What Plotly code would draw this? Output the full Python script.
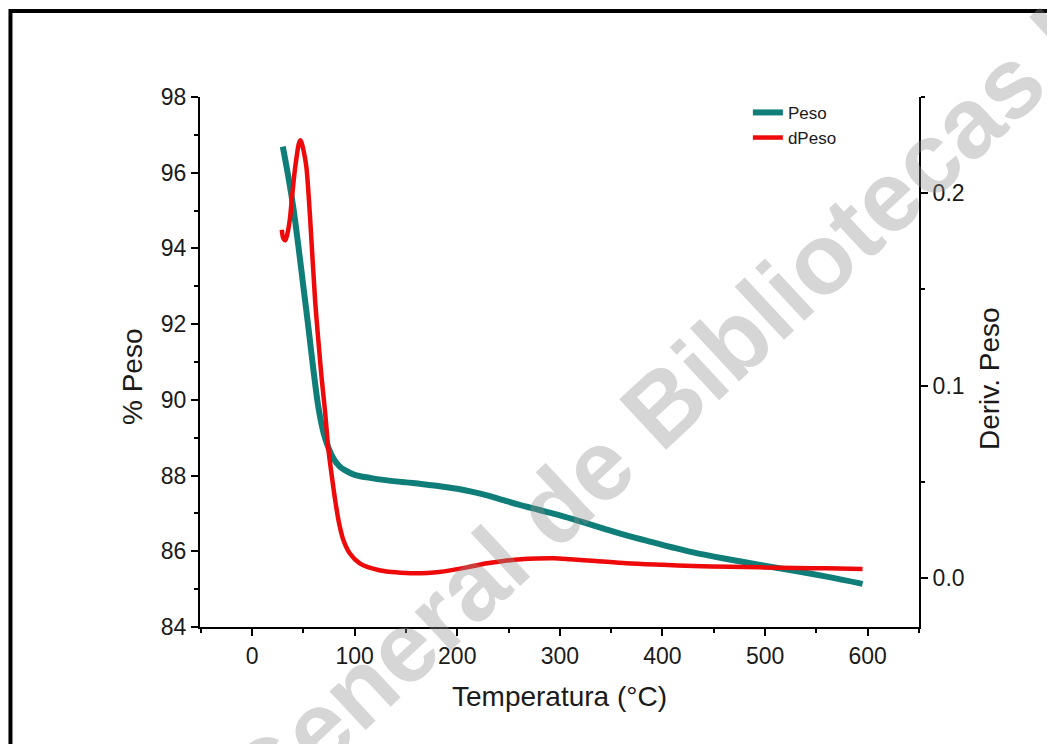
import plotly.graph_objects as go

# Peso (%) vs temperature
temp_peso = [30, 35, 40, 45, 50, 55, 60, 65, 70, 75, 80, 85, 90, 100, 115, 130, 150, 165, 180,
             200, 215, 230, 245, 260, 280, 300, 320, 345, 365, 390, 410, 430, 460, 495, 530, 560, 595]
peso = [96.69, 95.95, 95.12, 94.1, 93.0, 91.9, 90.75, 89.75, 89.1, 88.7, 88.42, 88.25, 88.15, 88.02,
        87.94, 87.88, 87.82, 87.78, 87.73, 87.65, 87.57, 87.47, 87.35, 87.23, 87.09, 86.95, 86.79,
        86.58, 86.42, 86.24, 86.1, 85.97, 85.81, 85.64, 85.48, 85.33, 85.14]

# Derivative of weight vs temperature
temp_dpeso = [29, 30.5, 32.5, 34.5, 37, 39, 41.5, 43.5, 45.5, 47, 48.5, 50.5, 53, 56.5, 61.5, 66, 68,
              71, 74.5, 78, 81, 85, 89, 95, 105, 118, 131, 145, 164, 180, 196, 212, 229, 245, 262,
              278, 294, 310, 335, 365, 400, 430, 465, 495, 530, 560, 595]
dpeso = [0.181, 0.1765, 0.1755, 0.179, 0.187, 0.198, 0.211, 0.219, 0.2255, 0.2275, 0.226, 0.2215,
         0.2135, 0.188, 0.144, 0.115, 0.103, 0.0875, 0.0665, 0.052, 0.0405, 0.028, 0.0197, 0.013,
         0.0076, 0.0048, 0.0033, 0.0027, 0.0024, 0.003, 0.0042, 0.0058, 0.0076, 0.0088, 0.0097,
         0.0101, 0.0102, 0.0097, 0.0088, 0.0076, 0.0068, 0.0062, 0.0058, 0.0055, 0.0052, 0.005, 0.0047]

x_ticks = [0, 100, 200, 300, 400, 500, 600]
y_ticks = [84, 86, 88, 90, 92, 94, 96, 98]
y2_ticks = [0.0, 0.1, 0.2]
y2_ticklabels = ["0.0", "0.1", "0.2"]

TEAL = "#0F7D78"
RED = "#EE0A0A"
FONT = "Liberation Sans, Arial, sans-serif"
TXT = "#1a1a1a"

fig = go.Figure()
fig.add_trace(go.Scatter(x=temp_peso, y=peso, name="Peso", mode="lines",
                         line=dict(color=TEAL, width=6, shape="spline", smoothing=1.0)))
fig.add_trace(go.Scatter(x=temp_dpeso, y=dpeso, name="dPeso", mode="lines", yaxis="y2",
                         line=dict(color=RED, width=4.5, shape="spline", smoothing=0.8)))

axis_common = dict(showline=True, linecolor="black", linewidth=2, ticks="outside",
                   tickcolor="black", tickwidth=2, ticklen=7, showgrid=False, zeroline=False,
                   tickfont=dict(family=FONT, size=23, color=TXT))
minor_common = dict(ticks="outside", ticklen=4, tickcolor="black", tickwidth=2)

fig.update_layout(
    width=1047, height=736,
    margin=dict(l=192, r=136, t=89, b=117),
    paper_bgcolor="white", plot_bgcolor="white",
    font=dict(family=FONT, color=TXT),
    xaxis=dict(range=[-50.7, 650], tickvals=x_ticks,
               minor=dict(dtick=50, tick0=0, **minor_common),
               title=dict(text="Temperatura (°C)", font=dict(family=FONT, size=28, color=TXT), standoff=19),
               **axis_common),
    yaxis=dict(range=[84, 98], tickvals=y_ticks,
               minor=dict(dtick=1, tick0=84, **minor_common),
               **axis_common),
    yaxis2=dict(overlaying="y", side="right", range=[-0.0255, 0.25], tickvals=y2_ticks,
                ticktext=y2_ticklabels,
                minor=dict(dtick=0.05, tick0=0, **minor_common),
                **axis_common),
    legend=dict(x=0.762, y=1.004, xanchor="left", yanchor="top", bgcolor="rgba(255,255,255,0)",
                font=dict(family=FONT, size=17, color=TXT), tracegroupgap=0, itemwidth=30),
    showlegend=True,
)

# y-axis titles
fig.add_annotation(text="% Peso", xref="paper", yref="paper", x=-0.0932, y=0.4736,
                   xanchor="center", yanchor="middle", showarrow=False, textangle=-90,
                   font=dict(family=FONT, size=28, color=TXT))
fig.add_annotation(text="Deriv. Peso", xref="paper", yref="paper", x=1.0988, y=0.468,
                   xanchor="center", yanchor="middle", showarrow=False, textangle=-90,
                   font=dict(family=FONT, size=28, color=TXT))

# outer frame of the image
fig.add_shape(type="rect", xref="paper", yref="paper", x0=-0.2636, x1=1.2, y0=-0.25, y1=1.1623,
              line=dict(color="black", width=4), fillcolor="rgba(0,0,0,0)", layer="above")

# watermark
fig.add_annotation(text="<b>Dirección General de Bibliotecas UAQ</b>", xref="paper", yref="paper",
                   x=0.484, y=0.217, xanchor="center", yanchor="middle", showarrow=False,
                   textangle=-43, font=dict(family=FONT, size=100, color="rgba(140,140,140,0.36)"))

fig.write_html("out.html")
